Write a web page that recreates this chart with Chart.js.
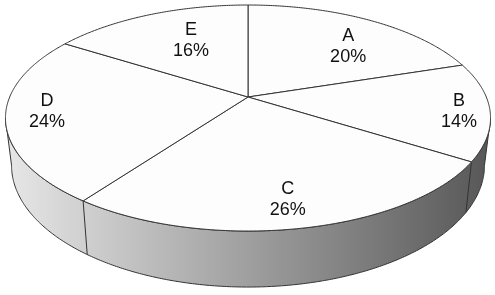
<!DOCTYPE html>
<html lang="en">

<head>
    <meta charset="UTF-8">
    <title>3D Pie</title>
    <script src="https://cdn.jsdelivr.net/npm/chart.js@4"></script>
    <style>
        body {
            margin: 0;
            background: #ffffff;
        }
    </style>
</head>

<body>
    <canvas id="pieChart" width="495" height="295"></canvas>

    <script>
        const categories = ['A', 'B', 'C', 'D', 'E'];
        const shares = [20, 14, 26, 24, 16];

        // draws the pie as a tilted disc, using the angles chart.js computed for each arc
        const pie3d = {
            id: 'pie3d',
            beforeDatasetsDraw(chart, args, o) {
                const ctx = chart.ctx;
                const meta = chart.getDatasetMeta(0);
                const arcs = meta.data;
                const values = chart.data.datasets[0].data;
                const total = values.reduce((a, b) => a + b, 0);

                function project(phi, r, lower) {
                    const X = r * Math.sin(phi), Z = r * Math.cos(phi);
                    const w = 1 + o.persp * Z;
                    let x = o.cx + o.rx * X / w;
                    let y = o.cy - o.ry * Z / w;
                    if (lower) {
                        x = o.cx + (x - o.cx) * o.shrink;
                        y += o.depth / w;
                    }
                    return { x, y };
                }

                const step = Math.PI / 360;
                const phiR = Math.acos(-o.persp);
                const phiL = 2 * Math.PI - phiR;

                ctx.save();
                ctx.lineWidth = 1;
                ctx.strokeStyle = '#333333';

                // side wall
                const grad = ctx.createLinearGradient(o.cx - o.rx, 0, o.cx + o.rx, 0);
                grad.addColorStop(0, '#e6e6e6');
                grad.addColorStop(1, '#585858');
                ctx.beginPath();
                let p = project(phiR, 1, false);
                ctx.moveTo(p.x, p.y);
                for (let phi = phiR; phi <= phiL; phi += step) {
                    p = project(phi, 1, false);
                    ctx.lineTo(p.x, p.y);
                }
                p = project(phiL, 1, false);
                ctx.lineTo(p.x, p.y);
                for (let phi = phiL; phi >= phiR; phi -= step) {
                    p = project(phi, 1, true);
                    ctx.lineTo(p.x, p.y);
                }
                p = project(phiR, 1, true);
                ctx.lineTo(p.x, p.y);
                ctx.closePath();
                ctx.fillStyle = grad;
                ctx.fill();
                ctx.stroke();

                // seams on the side where slices meet
                arcs.forEach(arc => {
                    let phi = arc.startAngle + Math.PI / 2;
                    phi = ((phi % (2 * Math.PI)) + 2 * Math.PI) % (2 * Math.PI);
                    if (phi > phiR && phi < phiL) {
                        const a = project(phi, 1, false), b = project(phi, 1, true);
                        ctx.beginPath();
                        ctx.moveTo(a.x, a.y);
                        ctx.lineTo(b.x, b.y);
                        ctx.stroke();
                    }
                });

                // top face slices
                arcs.forEach(arc => {
                    const phi0 = arc.startAngle + Math.PI / 2;
                    const phi1 = arc.endAngle + Math.PI / 2;
                    ctx.beginPath();
                    ctx.moveTo(o.cx, o.cy);
                    for (let phi = phi0; phi < phi1; phi += step) {
                        p = project(phi, 1, false);
                        ctx.lineTo(p.x, p.y);
                    }
                    p = project(phi1, 1, false);
                    ctx.lineTo(p.x, p.y);
                    ctx.closePath();
                    ctx.fillStyle = '#fdfdfd';
                    ctx.fill();
                    ctx.stroke();
                });

                // labels
                ctx.fillStyle = '#111111';
                ctx.font = '18px "Liberation Sans", Arial, sans-serif';
                ctx.textAlign = 'center';
                ctx.textBaseline = 'middle';
                arcs.forEach((arc, i) => {
                    const mid = (arc.startAngle + arc.endAngle) / 2 + Math.PI / 2
                        + o.labelTurn[i] * Math.PI / 180;
                    const c = project(mid, o.labelRadius[i], false);
                    const pct = Math.round(values[i] / total * 100) + '%';
                    ctx.fillText(chart.data.labels[i], c.x, c.y - 10.5);
                    ctx.fillText(pct, c.x, c.y + 10.5);
                });

                ctx.restore();
                return false;
            }
        };

        const ctx = document.getElementById('pieChart').getContext('2d');

        const chart = new Chart(ctx, {
            type: 'pie',
            data: {
                labels: categories,
                datasets: [{
                    data: shares,
                    backgroundColor: '#fdfdfd',
                    borderColor: '#333333',
                    borderWidth: 1
                }]
            },
            options: {
                responsive: false,
                animation: false,
                plugins: {
                    legend: { display: false },
                    tooltip: { enabled: false },
                    pie3d: {
                        cx: 248,
                        cy: 97,
                        rx: 238.3,
                        ry: 109.1,
                        persp: 0.186,
                        depth: 45.6,
                        shrink: 0.975,
                        labelRadius: [0.68, 0.874, 0.81, 0.833, 0.636],
                        labelTurn: [6.5, 1.3, 0.7, 1.8, 4.2]
                    }
                }
            },
            plugins: [pie3d]
        });
    </script>

</body>

</html>
